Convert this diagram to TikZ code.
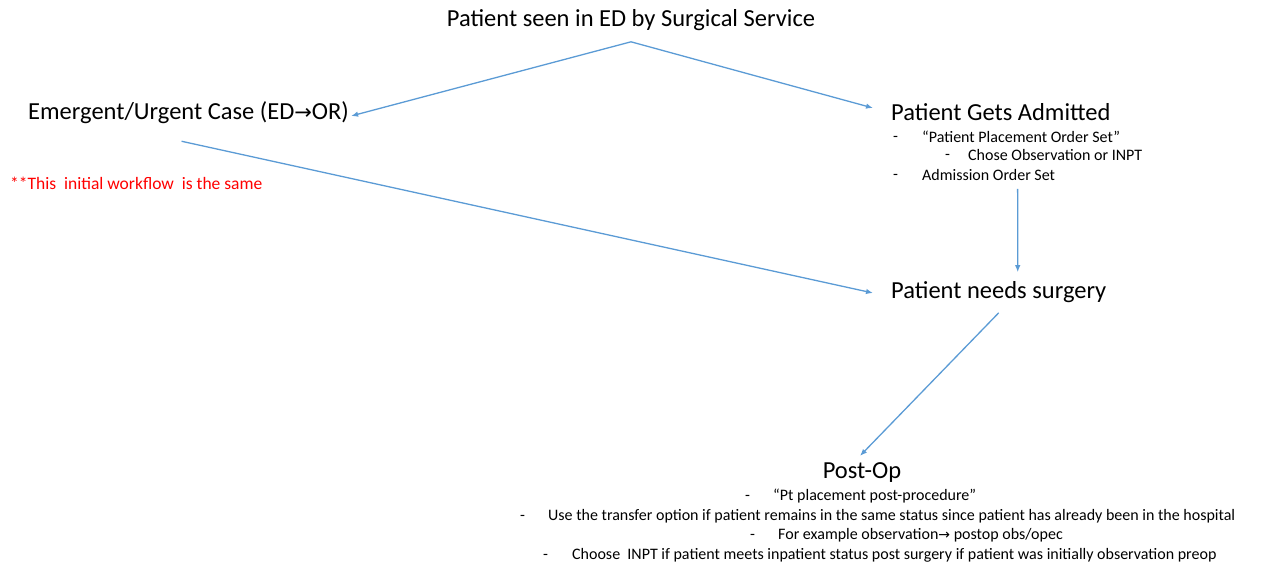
\documentclass[tikz,border=0pt]{standalone}
\usepackage{fontspec}
\setmainfont{Carlito}
\newfontfamily\symfont{DejaVu Sans}
\usetikzlibrary{arrows.meta}
\tikzset{
  >={Latex[length=7pt,width=5.5pt]},
  big/.style={inner sep=0pt,font=\fontsize{24.5}{29}\selectfont},
  small/.style={inner sep=0pt,anchor=west,font=\fontsize{16}{19}\selectfont},
  dashmark/.style={small,yshift=-2pt},
  redtxt/.style={small,text=red,font=\fontsize{17.5}{21}\selectfont},
  link/.style={->,draw=arrowblue,line width=1.3pt}
}
\definecolor{arrowblue}{RGB}{91,155,213}

\begin{document}
\begin{tikzpicture}[x=1pt,y=-1pt]
  \useasboundingbox (0,0) rectangle (1261,564);
  % headings
  \node[big] (seen) at (631,20) {Patient seen in ED by Surgical Service};
  \node[big,anchor=west] (emerg) at (28,113)
    {Emergent/Urgent Case (ED{\symfont\fontsize{21}{24}\selectfont→}OR)};
  \node[redtxt] (same) at (10,183) {**This\ \ initial workflow\ \ is the same};
  \node[big,anchor=west] (admit) at (891,112) {Patient Gets Admitted};
  \node[big,anchor=west] (need) at (891,292) {Patient needs surgery};
  \node[big] (postop) at (862,473) {Post-Op};
  % admission list
  \node[dashmark] at (893,137) {-};
  \node[small] (adm1) at (922,137) {“Patient Placement Order Set”};
  \node[dashmark] at (945,155) {-};
  \node[small] (adm2) at (968,155) {Chose Observation or INPT};
  \node[dashmark] at (893,175) {-};
  \node[small] (adm3) at (922,175) {Admission Order Set};
  % post-op list
  \node[dashmark] at (745,496) {-};
  \node[small] (post1) at (773,496) {“Pt placement post-procedure”};
  \node[dashmark] at (520,516) {-};
  \node[small] (post2) at (548,516)
    {Use the transfer option if patient remains in the same status since patient has already been in the hospital};
  \node[dashmark] at (750,535) {-};
  \node[small] (post3) at (778,535)
    {For example observation{\symfont\fontsize{14}{16}\selectfont→} postop obs/opec};
  \node[dashmark] at (543,555) {-};
  \node[small] (post4) at (572,555)
    {Choose\ \ INPT if patient meets inpatient status post surgery if patient was initially observation preop};
  % arrows
  \draw[link] ([yshift=-11]seen.south) -- ([xshift=2,yshift=-3]emerg.east);
  \draw[link] ([yshift=-11]seen.south) -- ([xshift=-18,yshift=4]admit.west);
  \draw[link] ([xshift=-7,yshift=-17]emerg.south) -- ([xshift=-18,yshift=-1]need.west);
  \draw[link] ([xshift=29,yshift=-8]adm3.south) -- ([xshift=19,yshift=9]need.north);
  \draw[link] ([yshift=-10]need.south) -- ([xshift=-2,yshift=7]postop.north);
\end{tikzpicture}
\end{document}
